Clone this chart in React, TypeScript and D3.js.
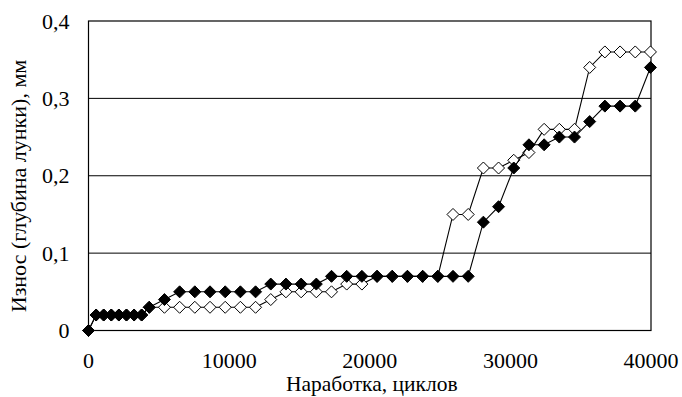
import { useRef, useEffect } from "react";
import * as d3 from "d3";

// cycles
const cycles = [
  0, 540, 1080, 1620, 2160, 2700, 3240, 3780, 4320, 5400, 6480, 7560, 8640,
  9720, 10800, 11880, 12960, 14040, 15120, 16200, 17280, 18360, 19440, 20520,
  21600, 22680, 23760, 24840, 25920, 27000, 28080, 29160, 30240, 31320, 32400,
  33480, 34560, 35640, 36720, 37800, 38880, 39960,
];

// wear, mm (filled markers)
const wearFilled = [
  0, 0.02, 0.02, 0.02, 0.02, 0.02, 0.02, 0.02, 0.03, 0.04, 0.05, 0.05, 0.05,
  0.05, 0.05, 0.05, 0.06, 0.06, 0.06, 0.06, 0.07, 0.07, 0.07, 0.07, 0.07, 0.07,
  0.07, 0.07, 0.07, 0.07, 0.14, 0.16, 0.21, 0.24, 0.24, 0.25, 0.25, 0.27, 0.29,
  0.29, 0.29, 0.34,
];

// wear, mm (open markers)
const wearOpen = [
  0, 0.02, 0.02, 0.02, 0.02, 0.02, 0.02, 0.02, 0.03, 0.03, 0.03, 0.03, 0.03,
  0.03, 0.03, 0.03, 0.04, 0.05, 0.05, 0.05, 0.05, 0.06, 0.06, 0.07, 0.07, 0.07,
  0.07, 0.07, 0.15, 0.15, 0.21, 0.21, 0.22, 0.23, 0.26, 0.26, 0.26, 0.34, 0.36,
  0.36, 0.36, 0.36,
];

const xTicks = [0, 10000, 20000, 30000, 40000];
const yTicks = [0, 0.1, 0.2, 0.3, 0.4];

function App() {
  const svgRef = useRef(null);

  useEffect(() => {
    const w = 682;
    const h = 397;
    const m = { left: 88.5, right: 31, top: 21, bottom: 66.5 };
    const font = "'Liberation Serif', 'Times New Roman', serif";
    const fs = 22;

    const svg = d3.select(svgRef.current).attr("width", w).attr("height", h);
    svg.selectAll("*").remove();

    const x = d3.scaleLinear().domain([0, 40000]).range([m.left, w - m.right]);
    const y = d3.scaleLinear().domain([0, 0.4]).range([h - m.bottom, m.top]);

    // gridlines
    svg
      .append("g")
      .selectAll("line")
      .data(yTicks.filter((d) => d > 0 && d < 0.4))
      .join("line")
      .attr("x1", x(0))
      .attr("x2", x(40000))
      .attr("y1", (d) => y(d))
      .attr("y2", (d) => y(d))
      .attr("stroke", "#000")
      .attr("stroke-width", 1);

    // frame
    svg
      .append("rect")
      .attr("x", x(0))
      .attr("y", y(0.4))
      .attr("width", x(40000) - x(0))
      .attr("height", y(0) - y(0.4))
      .attr("fill", "none")
      .attr("stroke", "#000")
      .attr("stroke-width", 1.2);

    // tick labels
    svg
      .append("g")
      .selectAll("text")
      .data(xTicks)
      .join("text")
      .attr("x", (d) => x(d))
      .attr("y", y(0) + 37)
      .attr("text-anchor", "middle")
      .attr("font-family", font)
      .attr("font-size", fs)
      .text((d) => String(d));

    svg
      .append("g")
      .selectAll("text")
      .data(yTicks)
      .join("text")
      .attr("x", x(0) - 19)
      .attr("y", (d) => y(d) + 7.5)
      .attr("text-anchor", "end")
      .attr("font-family", font)
      .attr("font-size", fs)
      .text((d) => (d === 0 ? "0" : d3.format(".1f")(d).replace(".", ",")));

    // axis titles
    svg
      .append("text")
      .attr("x", (x(0) + x(40000)) / 2 + 2)
      .attr("y", h - 6)
      .attr("text-anchor", "middle")
      .attr("font-family", font)
      .attr("font-size", 21.5)
      .text("Наработка, циклов");

    svg
      .append("text")
      .attr("transform", `translate(26, 186) rotate(-90)`)
      .attr("text-anchor", "middle")
      .attr("font-family", font)
      .attr("font-size", fs)
      .text("Износ (глубина лунки), мм");

    const line = d3
      .line()
      .x((d) => x(d[0]))
      .y((d) => y(d[1]));

    // square diamond marker, like a spreadsheet chart
    const r = 6;
    const diamond = `M0,${-r}L${r},0L0,${r}L${-r},0Z`;

    const series = [
      { values: wearOpen, fill: "#fff" },
      { values: wearFilled, fill: "#000" },
    ];

    series.forEach((s) => {
      const pts = cycles.map((c, i) => [c, s.values[i]]);
      svg
        .append("path")
        .attr("d", line(pts))
        .attr("fill", "none")
        .attr("stroke", "#000")
        .attr("stroke-width", 1.1);
      svg
        .append("g")
        .selectAll("path")
        .data(pts)
        .join("path")
        .attr("d", diamond)
        .attr("transform", (d) => `translate(${x(d[0])},${y(d[1])})`)
        .attr("fill", s.fill)
        .attr("stroke", "#000")
        .attr("stroke-width", 1);
    });
  }, []);

  return (
    <div style={{ position: "absolute", left: 0, top: 0 }}>
      <svg ref={svgRef}></svg>
    </div>
  );
}

export default App;
